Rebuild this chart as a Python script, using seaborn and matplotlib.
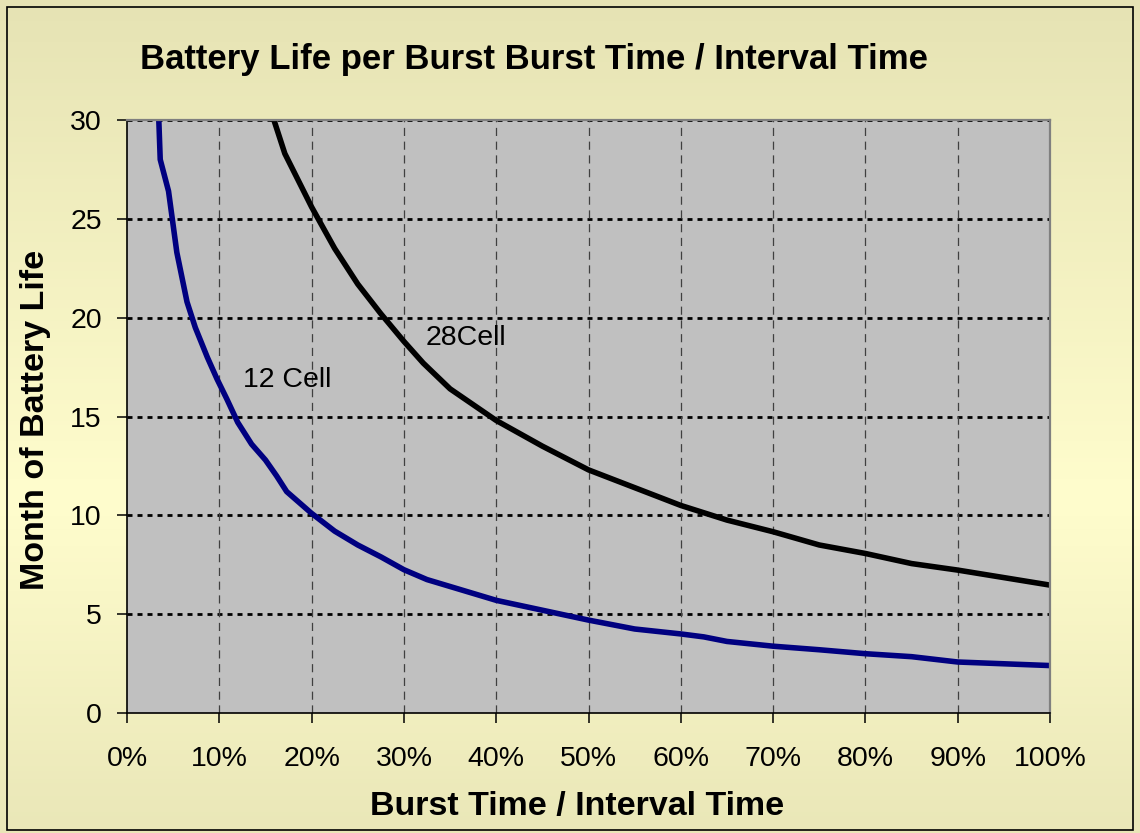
import numpy as np
import pandas as pd
import matplotlib
matplotlib.use("Agg")
import matplotlib.pyplot as plt
import matplotlib.patches as patches
from matplotlib.ticker import FuncFormatter
import seaborn as sns

# 12 Cell curve (x = burst/interval in %, y = months)
cell12X = [3.4, 3.6, 4.5, 5.4, 6.5, 7.4, 8.7, 9.75, 10.8, 12, 13.5, 15, 16.2, 17.3,
           20, 22.5, 25, 27.5, 30, 32.5, 35, 37.5, 40, 45, 50, 55, 60, 62.5, 65,
           70, 75, 80, 85, 90, 100]
cell12Y = [30.6, 28.0, 26.4, 23.3, 20.8, 19.5, 18.0, 16.9, 15.9, 14.7, 13.6, 12.8, 12.0, 11.2,
           10.1, 9.2, 8.5, 7.9, 7.25, 6.75, 6.4, 6.05, 5.7, 5.2, 4.7, 4.25, 4.0, 3.85, 3.62,
           3.38, 3.2, 3.0, 2.85, 2.58, 2.4]

# 28Cell curve
cell28X = [15.5, 17.1, 20, 22.5, 25, 27.5, 30, 32.1, 35, 37.5, 40, 45, 50, 55, 60,
           65, 70, 75, 80, 85, 90, 95, 100]
cell28Y = [30.6, 28.3, 25.6, 23.5, 21.7, 20.2, 18.8, 17.7, 16.4, 15.6, 14.8, 13.5, 12.3, 11.4, 10.5,
           9.76, 9.17, 8.5, 8.07, 7.56, 7.23, 6.85, 6.47]

xTicks = [0, 10, 20, 30, 40, 50, 60, 70, 80, 90, 100]
yTicks = [0, 5, 10, 15, 20, 25, 30]

df12 = pd.DataFrame({'Ratio': cell12X, 'Months': cell12Y})
df28 = pd.DataFrame({'Ratio': cell28X, 'Months': cell28Y})

sns.set_style("ticks")
plt.rcParams['font.family'] = ['Liberation Sans', 'DejaVu Sans']
plt.rcParams['text.color'] = 'black'
plt.rcParams['xtick.color'] = 'black'
plt.rcParams['ytick.color'] = 'black'
plt.rcParams['axes.labelcolor'] = 'black'

fig = plt.figure(figsize=(11.4, 8.33), dpi=100)

# beige gradient background
bg = fig.add_axes([0, 0, 1, 1], zorder=-10)
top = np.array([230, 227, 180]) / 255.0
mid = np.array([255, 253, 205]) / 255.0
shade = np.interp(np.linspace(0, 1, 200), [0.0, 0.6, 1.0], [0.0, 1.0, 0.15])
img = top[None, :] + (mid - top)[None, :] * shade[:, None]
bg.imshow(img[:, None, :], aspect='auto', extent=[0, 1, 0, 1], origin='upper')
bg.set_axis_off()

# outer frame
fig.patches.append(patches.Rectangle((7 / 1140, 3 / 833), 1126 / 1140, 823 / 833,
                                     transform=fig.transFigure, fill=False,
                                     edgecolor='black', linewidth=1.2))

ax = fig.add_axes([127 / 1140, 1 - 713 / 833, 923 / 1140, 593 / 833])
ax.set_facecolor('#C0C0C0')

sns.lineplot(x='Ratio', y='Months', data=df12, ax=ax, color='#000080', linewidth=4.0,
             sort=False, solid_capstyle='round', solid_joinstyle='round', zorder=5)
sns.lineplot(x='Ratio', y='Months', data=df28, ax=ax, color='black', linewidth=4.0,
             sort=False, solid_capstyle='round', solid_joinstyle='round', zorder=5)

ax.set_xlim(0, 100)
ax.set_ylim(0, 30)
ax.set_xticks(xTicks)
ax.set_yticks(yTicks)
ax.xaxis.set_major_formatter(FuncFormatter(lambda v, p: '%d%%' % v))

# grid: dotted horizontal, dashed vertical
for yv in yTicks[1:]:
    ax.axhline(yv, color='black', linewidth=2.0, linestyle=(0, (1.8, 1.8)), zorder=2)
for xv in xTicks[1:-1]:
    ax.axvline(xv, color='#404040', linewidth=0.9, linestyle=(0, (6.5, 4.5)), zorder=2)

ax.spines['left'].set_color('black')
ax.spines['bottom'].set_color('black')
ax.spines['left'].set_linewidth(1.2)
ax.spines['bottom'].set_linewidth(1.2)
ax.spines['top'].set_color('#808080')
ax.spines['right'].set_color('#808080')
ax.spines['top'].set_linewidth(1.6)
ax.spines['right'].set_linewidth(1.6)
for s in ax.spines.values():
    s.set_zorder(6)

ax.tick_params(axis='both', direction='out', length=7, width=1.1, color='black',
               labelsize=20.5, labelcolor='black')
ax.tick_params(axis='x', pad=17)
ax.tick_params(axis='y', pad=11)
ax.set_xlabel('')
ax.set_ylabel('')

ax.text(12.6, 16.85, '12 Cell', fontsize=20.5, ha='left', va='center', zorder=7)
ax.text(32.4, 18.95, '28Cell', fontsize=20.5, ha='left', va='center', zorder=7)

fig.text(534 / 1140, 1 - 60 / 833, 'Battery Life per Burst Burst Time / Interval Time',
         fontsize=25, fontweight='bold', ha='center', va='center')
fig.text(577 / 1140, 1 - 806 / 833, 'Burst Time / Interval Time',
         fontsize=24.5, fontweight='bold', ha='center', va='center')
fig.text(36 / 1140, 1 - 420 / 833, 'Month of Battery Life',
         fontsize=24.5, fontweight='bold', ha='center', va='center', rotation=90)

fig.savefig('out.png', dpi=100)
